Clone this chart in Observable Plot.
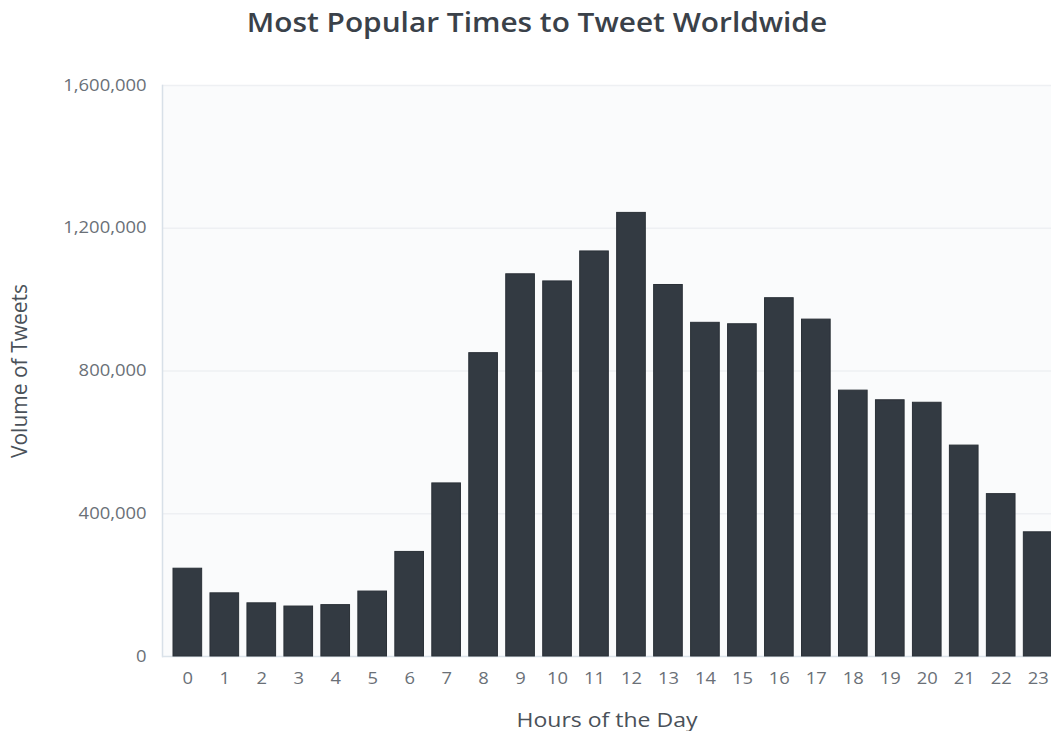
<!DOCTYPE html>
<html>
<head>
<meta charset="utf-8">
<script src="https://cdn.jsdelivr.net/npm/d3@7"></script>
<script src="https://cdn.jsdelivr.net/npm/@observablehq/plot@0.6"></script>
<style>
  html, body { margin: 0; padding: 0; background: #ffffff; }
  #wrap { position: relative; width: 1051px; height: 731px; overflow: hidden; }
  #title {
    position: absolute; left: 537px; top: 4px;
    transform: translateX(-50%) scaleX(1.125);
    font-family: "Open Sans", sans-serif; font-weight: 600; font-size: 26.5px;
    color: #3a4149; white-space: nowrap;
  }
  #chart svg { display: block; }
</style>
</head>
<body>
<div id="wrap">
  <div id="chart"></div>
  <div id="title">Most Popular Times to Tweet Worldwide</div>
</div>
<script>
// Tweet volume by hour of the day
const hours = ["0","1","2","3","4","5","6","7","8","9","10","11","12","13","14","15","16","17","18","19","20","21","22","23"];
const volumes = [246000, 177000, 149000, 140000, 144000, 182000, 293000, 485000, 850000, 1071000, 1051000, 1135000,
                 1243000, 1041000, 935000, 931000, 1004000, 944000, 745000, 718000, 711000, 591000, 455000, 348000];
const yTicks = [0, 400000, 800000, 1200000, 1600000];

const data = hours.map((h, i) => ({hour: h, volume: volumes[i]}));

const chart = Plot.plot({
  width: 1051,
  height: 731,
  marginTop: 85,
  marginBottom: 75,
  marginLeft: 162,
  marginRight: 0,
  style: {fontFamily: "Open Sans, sans-serif", background: "transparent"},
  x: {
    type: "band",
    domain: hours,
    range: [173, 1052],
    paddingInner: 0.225,
    paddingOuter: 0,
    round: false,
    label: null
  },
  y: {
    domain: [0, 1600000],
    label: null
  },
  marks: [
    Plot.frame({fill: "#fafbfc", stroke: null}),
    Plot.ruleY(yTicks.slice(1), {stroke: "#eef0f3", strokeWidth: 1.5}),
    Plot.frame({anchor: "left", stroke: "#d8e0e8", strokeWidth: 1.5}),
    Plot.ruleY([0], {stroke: "#dbe3ea", strokeWidth: 1.5}),
    Plot.barY(data, {x: "hour", y: "volume", fill: "#333a42", stroke: "#2a3037", strokeWidth: 1}),
    Plot.axisY({
      ticks: yTicks, tickFormat: d3.format(","), tickSize: 0, tickPadding: 16,
      fontSize: 16, fill: "#6a7077",
      label: "Volume of Tweets", labelAnchor: "center", labelOffset: 150, labelArrow: "none"
    }),
    Plot.axisX({
      tickSize: 0, tickPadding: 16, fontSize: 16, fill: "#6a7077",
      label: "Hours of the Day", labelAnchor: "center", labelOffset: 70, labelArrow: "none"
    })
  ]
});

document.getElementById("chart").appendChild(chart);

// Axis titles: larger and darker than the tick labels
const yLabel = chart.querySelector("[aria-label='y-axis label']");
const xLabel = chart.querySelector("[aria-label='x-axis label']");
[[yLabel, 21], [xLabel, 20]].forEach(([g, size]) => {
  if (!g) return;
  g.setAttribute("fill", "#4a5159");
  g.querySelectorAll("text").forEach(t => { t.style.fontSize = size + "px"; t.style.fill = "#4a5159"; });
});

// Slightly wide lettering on the horizontal texts
const widen = 1.15;
chart.querySelectorAll("[aria-label='y-axis tick label'] text, [aria-label='x-axis tick label'] text, [aria-label='x-axis label'] text")
  .forEach(t => {
    const w = t.getComputedTextLength();
    t.setAttribute("textLength", (w * widen).toFixed(1));
    t.setAttribute("lengthAdjust", "spacingAndGlyphs");
  });
</script>
</body>
</html>
